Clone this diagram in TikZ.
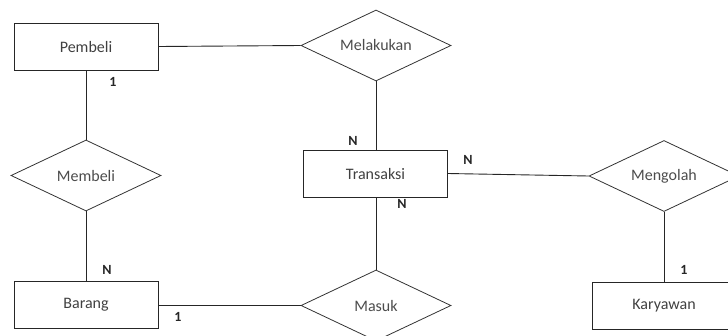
\documentclass[tikz,border=0pt]{standalone}
\usepackage{fontspec}
\setmainfont{Carlito}
\usetikzlibrary{shapes.geometric}
\begin{document}
\begin{tikzpicture}[x=1pt,y=-1pt,
  ent/.style={draw=black!85,line width=0.9pt,minimum width=144pt,minimum height=47pt,inner sep=0pt,text=black!75,font=\fontsize{16}{18}\selectfont},
  rel/.style={diamond,draw=black!80,line width=0.8pt,minimum width=150pt,minimum height=71pt,aspect=2.1,inner sep=0pt,text=black!70,font=\fontsize{16}{18}\selectfont},
  conn/.style={draw=black!85,line width=0.9pt},
  card/.style={font=\bfseries\fontsize{14}{16}\selectfont,text=black!85,inner sep=0pt}]
\useasboundingbox (0,0) rectangle (728,335);
\node[ent] (pembeli) at (86,46.5) {Pembeli};
\node[rel] (melakukan) at (376,45.5) {Melakukan};
\node[ent] (transaksi) at (375.5,173.5) {Transaksi};
\node[rel] (membeli) at (86,175.5) {Membeli};
\node[rel] (mengolah) at (664,176) {Mengolah};
\node[ent] (barang) at (86,304.5) {Barang};
\node[rel] (masuk) at (376,305.5) {Masuk};
\node[ent] (karyawan) at (664,305.5) {Karyawan};
\draw[conn] (pembeli.east) -- (melakukan.west);
\draw[conn] (melakukan.south) -- (melakukan.south |- transaksi.north);
\draw[conn] (pembeli.south) -- (membeli.north);
\draw[conn] (membeli.south) -- (barang.north);
\draw[conn] (barang.east |- masuk.west) -- (masuk.west);
\draw[conn] (masuk.north) -- (masuk.north |- transaksi.south);
\draw[conn] (transaksi.east) -- (mengolah.west);
\draw[conn] (mengolah.south) -- (karyawan.north);
\node[card] (c1) at (113,82) {1};
\node[card] (c2) at (353,141) {N};
\node[card] (c3) at (402,204) {N};
\node[card] (c4) at (468,160) {N};
\node[card] (c5) at (107,270) {N};
\node[card] (c6) at (178,317) {1};
\node[card] (c7) at (684,270) {1};
\end{tikzpicture}
\end{document}
